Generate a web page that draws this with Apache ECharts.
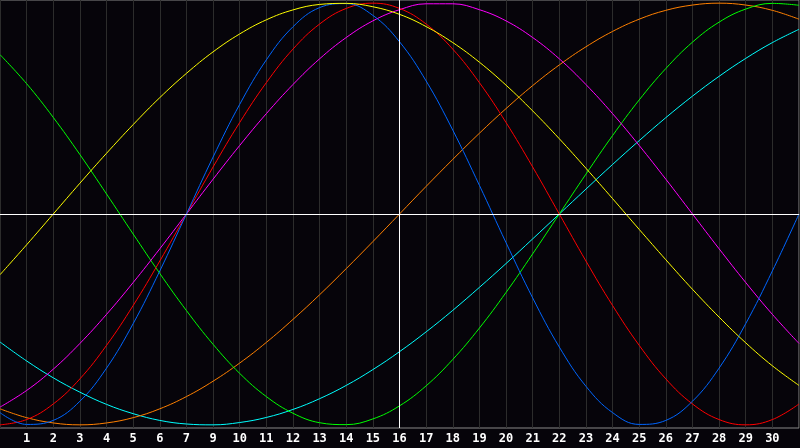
<!DOCTYPE html>
<html lang="en">
  <head>
    <meta charset="UTF-8" />
    <title>Biorhythm</title>
    <script src="https://cdn.jsdelivr.net/npm/echarts@6/dist/echarts.min.js"></script>
    <style>
      html, body {
        margin: 0;
        padding: 0;
        background: #06040a;
      }
      #chart {
        width: 800px;
        height: 448px;
      }
    </style>
  </head>
  <body>
    <div id="chart"></div>

    <script>
      // day labels under each grid line (no "8" in the source picture)
      var dayLabels = ['', '1', '2', '3', '4', '5', '6', '7', '9', '10', '11', '12', '13', '14', '15',
        '16', '17', '18', '19', '20', '21', '22', '23', '24', '25', '26', '27', '28', '29', '30', ''];
      var todayIndex = 15;

      // cycle values per day, -100..100
      var cyan = [-60.7,-69.7,-77.7,-84.5,-90.3,-94.7,-97.9,-99.6,-100.0,-98.9,-96.5,-92.7,-87.6,-81.3,-73.8,-65.3,-55.9,-45.7,-34.8,-23.5,-11.8,0,11.8,23.5,34.8,45.7,55.9,65.3,73.8,81.3,87.6];
      var orange = [-92.4,-96.6,-99.1,-100,-99.1,-96.6,-92.4,-86.6,-79.3,-70.7,-60.9,-50,-38.3,-25.9,-13.1,0,13.1,25.9,38.3,50,60.9,70.7,79.3,86.6,92.4,96.6,99.1,100,99.1,96.6,92.4];
      var green = [75.6,61.8,45.8,28.2,9.5,-9.5,-28.2,-45.8,-61.8,-75.6,-86.6,-94.5,-99.0,-99.9,-97.2,-91.0,-81.5,-69.0,-54.1,-37.2,-18.9,0,18.9,37.2,54.1,69.0,81.5,91.0,97.2,99.9,99.0];
      var magenta = [-91.6,-83.7,-73.6,-61.4,-47.6,-32.5,-16.5,0,16.5,32.5,47.6,61.4,73.6,83.7,91.6,96.9,99.7,99.7,96.9,91.6,83.7,73.6,61.4,47.6,32.5,16.5,0,-16.5,-32.5,-47.6,-61.4];
      var red = [-100,-97.5,-90.1,-78.2,-62.3,-43.4,-22.3,0,22.3,43.4,62.3,78.2,90.1,97.5,100,97.5,90.1,78.2,62.3,43.4,22.3,0,-22.3,-43.4,-62.3,-78.2,-90.1,-97.5,-100,-97.5,-90.1];
      var blue = [-94.2,-99.8,-97.9,-88.8,-73.1,-52.0,-27.0,0,27.0,52.0,73.1,88.8,97.9,99.8,94.2,81.7,63.1,39.8,13.6,-13.6,-39.8,-63.1,-81.7,-94.2,-99.8,-97.9,-88.8,-73.1,-52.0,-27.0,0];
      var yellow = [-28.8,-14.6,0,14.6,28.8,42.4,55.2,66.7,76.9,85.4,92.1,96.8,99.4,99.9,98.3,94.7,88.9,81.3,72.0,61.1,48.9,35.7,21.7,7.3,-7.3,-21.7,-35.7,-48.9,-61.1,-72.0,-81.3];

      function toPairs(arr) {
        return arr.map(function (v, i) { return [i, v]; });
      }

      function curve(name, data, color) {
        return {
          name: name,
          type: 'line',
          data: toPairs(data),
          smooth: 0.4,
          symbol: 'none',
          silent: true,
          animation: false,
          lineStyle: { color: color, width: 1 }
        };
      }

      var chart = echarts.init(document.getElementById('chart'));

      var series = [
        curve('cyan', cyan, '#00ffff'),
        curve('orange', orange, '#ff8000'),
        curve('green', green, '#00ff00'),
        curve('magenta', magenta, '#ff00ff'),
        curve('red', red, '#ff0000'),
        curve('blue', blue, '#0066ff'),
        curve('yellow', yellow, '#ffff00')
      ];
      // white cross: zero line and today line
      series.unshift({
        type: 'line',
        data: [],
        silent: true,
        animation: false,
        markLine: {
          silent: true,
          symbol: 'none',
          label: { show: false },
          lineStyle: { color: '#ffffff', width: 1, type: 'solid' },
          data: [{ xAxis: todayIndex }, { yAxis: 0 }]
        }
      });

      chart.setOption({
        backgroundColor: '#06040a',
        animation: false,
        grid: {
          left: 0,
          right: 1,
          top: 0,
          bottom: 20,
          show: true,
          borderColor: '#888888',
          borderWidth: 1,
          backgroundColor: 'transparent'
        },
        xAxis: {
          type: 'value',
          min: 0,
          max: 30,
          interval: 1,
          axisLine: { show: true, lineStyle: { color: '#888888' } },
          axisTick: { show: false },
          splitLine: { show: true, lineStyle: { color: '#2c2c2c', width: 1 } },
          axisLabel: {
            color: '#ffffff',
            fontFamily: 'DejaVu Sans Mono',
            fontWeight: 'bold',
            fontSize: 12,
            margin: 5,
            showMinLabel: false,
            showMaxLabel: false,
            formatter: function (v) { return dayLabels[v] || ''; }
          }
        },
        yAxis: {
          type: 'value',
          min: -101.5,
          max: 101.5,
          show: false,
          splitLine: { show: false }
        },
        series: series
      });
    </script>
  </body>
</html>
